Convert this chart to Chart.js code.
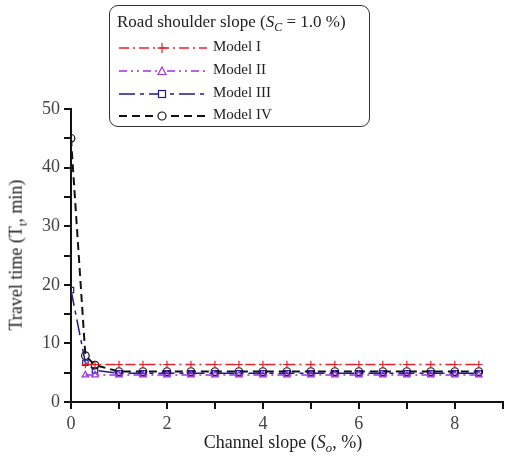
<!DOCTYPE html>
<html>
<head>
<meta charset="utf-8">
<script src="https://cdn.jsdelivr.net/npm/chart.js@4.4.1/dist/chart.umd.min.js"></script>
<style>
  html, body { margin: 0; padding: 0; background: #fff; }
  #wrap { position: relative; width: 508px; height: 463px; font-family: "Liberation Serif", "DejaVu Serif", serif; color: #222; }
  #chart { position: absolute; left: 0; top: 0; }
  .ytitle { position: absolute; left: 18px; top: 255px; transform: translate(-50%, -50%) rotate(-90deg); font-size: 18px; white-space: nowrap; }
  .xtitle { position: absolute; left: 283px; top: 444px; transform: translate(-50%, -50%); font-size: 18px; white-space: nowrap; }
  #legend { position: absolute; left: 109px; top: 5px; width: 261px; height: 122px; border: 1.5px solid #333; border-radius: 9px; box-sizing: border-box; }
  #legend .title { position: absolute; left: 7px; top: 6px; font-size: 17px; white-space: nowrap; }
  #legend .row { position: absolute; left: 7px; height: 20px; }
  #legend .row svg { position: absolute; left: 0; top: 0; }
  #legend .row span { position: absolute; left: 96px; top: 0; font-size: 15px; white-space: nowrap; }
  sub { font-size: 70%; }
</style>
</head>
<body>
<div id="wrap">
  <canvas id="chart" width="508" height="463"></canvas>
  <div class="ytitle">Travel time (T<sub>t</sub>, min)</div>
  <div class="xtitle">Channel slope (<i>S<sub>o</sub></i>, %)</div>
  <div id="legend"><div class="title">Road shoulder slope (<i>S<sub>C</sub></i> = 1.0 %)</div></div>
</div>
<script>
const slopes = [0, 0.3, 0.5, 1, 1.5, 2, 2.5, 3, 3.5, 4, 4.5, 5, 5.5, 6, 6.5, 7, 7.5, 8, 8.5];
const modelI   = [null, 6.4, 6.4, 6.4, 6.4, 6.4, 6.4, 6.4, 6.4, 6.4, 6.4, 6.4, 6.4, 6.4, 6.4, 6.4, 6.4, 6.4, 6.4];
const modelII  = [null, 4.6, 4.6, 4.6, 4.6, 4.6, 4.6, 4.6, 4.6, 4.6, 4.6, 4.6, 4.6, 4.6, 4.6, 4.6, 4.6, 4.6, 4.6];
const modelIII = [19.1, 6.7, 5.4, 4.9, 4.9, 4.9, 4.9, 4.9, 4.9, 4.9, 4.9, 4.9, 4.9, 4.9, 4.9, 4.9, 4.9, 4.9, 4.9];
const modelIV  = [45, 7.9, 6.3, 5.2, 5.2, 5.2, 5.2, 5.2, 5.2, 5.2, 5.2, 5.2, 5.2, 5.2, 5.2, 5.2, 5.2, 5.2, 5.2];
const labels = ["Model I", "Model II", "Model III", "Model IV"];

const styles = [
  { color: "#e8202a", dash: [10, 4, 2, 4], point: "cross", width: 1.5 },
  { color: "#a030e0", dash: [8, 4, 2, 4, 2, 4], point: "triangle", width: 1.5 },
  { color: "#1c1c8a", dash: [16, 5, 4, 5], point: "rect", width: 1.5 },
  { color: "#111111", dash: [8, 5], point: "circle", width: 2 }
];
const series = [modelI, modelII, modelIII, modelIV];

const datasets = series.map((vals, i) => ({
  label: labels[i],
  data: slopes.map((x, j) => ({ x: x, y: vals[j] })).filter(p => p.y !== null),
  borderColor: styles[i].color,
  borderDash: styles[i].dash,
  borderWidth: styles[i].width,
  pointStyle: styles[i].point,
  pointRadius: 3.8,
  pointBorderWidth: 1.2,
  pointBorderColor: styles[i].color,
  pointBackgroundColor: "rgba(255,255,255,0)",
  tension: 0,
  fill: false
}));

const tickFont = { family: "Liberation Serif", size: 18 };

new Chart(document.getElementById("chart").getContext("2d"), {
  type: "line",
  data: { datasets: datasets },
  options: {
    responsive: false,
    animation: false,
    layout: { padding: { top: 109, right: 3, left: 0, bottom: 0 } },
    plugins: { legend: { display: false }, tooltip: { enabled: false } },
    scales: {
      x: {
        type: "linear",
        min: 0,
        max: 9,
        ticks: {
          stepSize: 1,
          color: "#444",
          font: tickFont,
          padding: 4,
          maxRotation: 0,
          callback: (v) => (v % 2 === 0 ? v : "")
        },
        grid: { drawOnChartArea: false, drawTicks: true, tickLength: 7, color: "#111", lineWidth: 2 },
        border: { display: true, color: "#111", width: 2 },
        afterFit: (axis) => { axis.height = 61; }
      },
      y: {
        min: 0,
        max: 50,
        ticks: {
          stepSize: 5,
          color: "#444",
          font: tickFont,
          padding: 4,
          callback: (v) => (v % 10 === 0 ? v : "")
        },
        grid: { drawOnChartArea: false, drawTicks: true, tickLength: 7, color: "#111", lineWidth: 2 },
        border: { display: true, color: "#111", width: 2 },
        afterFit: (axis) => { axis.width = 71; }
      }
    }
  }
});

// legend rows with line samples
const legend = document.getElementById("legend");
const rowTops = [32, 55, 78, 100];
labels.forEach((name, i) => {
  const s = styles[i];
  const row = document.createElement("div");
  row.className = "row";
  row.style.top = rowTops[i] + "px";
  let marker = "";
  if (s.point === "cross") marker = `<path d="M45 5 V15 M40 10 H50" stroke="${s.color}" stroke-width="1.2"/>`;
  if (s.point === "triangle") marker = `<path d="M45 6 L49 13.5 L41 13.5 Z" fill="#fff" stroke="${s.color}" stroke-width="1.2"/>`;
  if (s.point === "rect") marker = `<rect x="41.5" y="6.5" width="7" height="7" fill="#fff" stroke="${s.color}" stroke-width="1.2"/>`;
  if (s.point === "circle") marker = `<circle cx="45" cy="10" r="4" fill="#fff" stroke="${s.color}" stroke-width="1.2"/>`;
  row.innerHTML = `<svg width="92" height="20"><line x1="2" y1="10" x2="90" y2="10" stroke="${s.color}" stroke-width="${s.width}" stroke-dasharray="${s.dash.join(" ")}"/>${marker}</svg><span>${name}</span>`;
  legend.appendChild(row);
});
</script>
</body>
</html>
